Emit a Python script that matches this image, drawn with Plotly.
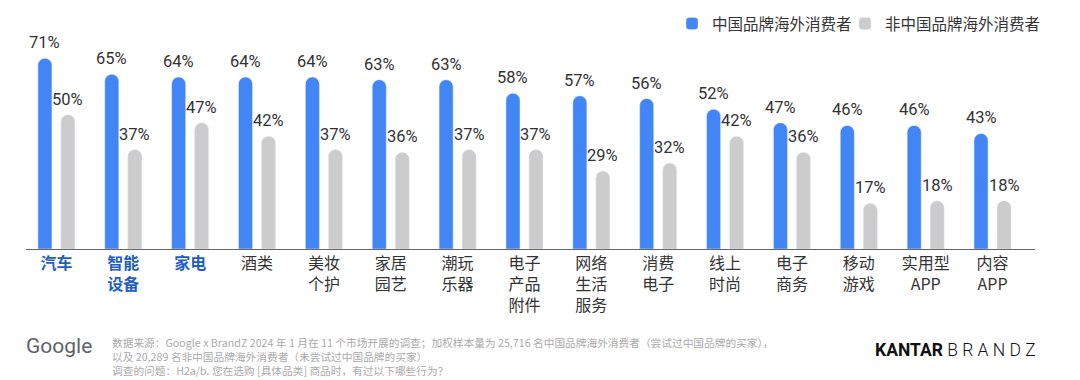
import plotly.graph_objects as go

# ---- data ----
categories = ["汽车", "智能\n设备", "家电", "酒类", "美妆\n个护", "家居\n园艺", "潮玩\n乐器",
              "电子\n产品\n附件", "网络\n生活\n服务", "消费\n电子", "线上\n时尚", "电子\n商务",
              "移动\n游戏", "实用型\nAPP", "内容\nAPP"]
highlighted = ["汽车", "智能\n设备", "家电"]
series_names = ["中国品牌海外消费者", "非中国品牌海外消费者"]
chinese_brand = [71, 65, 64, 64, 64, 63, 63, 58, 57, 56, 52, 47, 46, 46, 43]
non_chinese_brand = [50, 37, 47, 42, 37, 36, 37, 37, 29, 32, 42, 36, 17, 18, 18]

source_lines = [
    "数据来源：Google x BrandZ 2024 年 1 月在 11 个市场开展的调查；加权样本量为 25,716 名中国品牌海外消费者（尝试过中国品牌的买家），",
    "以及 20,289 名非中国品牌海外消费者（未尝试过中国品牌的买家）",
    "调查的问题：H2a/b. 您在选购 [具体品类] 商品时，有过以下哪些行为？",
]

# ---- style ----
BLUE = "#4285F4"
GRAY = "#CCCCCC"
HL = "#1F5FBF"
TXT = "#333333"
CJK = "Noto Sans CJK SC"
NUM = "Roboto, Noto Sans CJK SC"

W, H = 1080, 380
ML, MR, MT, MB = 26, 45, 34, 131
PW, PH = W - ML - MR, H - MT - MB
BARGAP, BARGROUPGAP = 0.312, 0.39


def px(x, y):
    return (x - ML) / PW, (H - MB - y) / PH


idx = list(range(len(categories)))
ticktext = []
for c in categories:
    t = c.replace("\n", "<br>")
    if c in highlighted:
        t = f"<span style='color:{HL}'><b>{t}</b></span>"
    ticktext.append(t)

fig = go.Figure()
fig.add_trace(go.Bar(x=idx, y=chinese_brand, name=series_names[0], marker_color=BLUE,
                     marker_cornerradius="50%", hoverinfo="skip", legend="legend"))
fig.add_trace(go.Bar(x=idx, y=non_chinese_brand, name=series_names[1], marker_color=GRAY,
                     marker_cornerradius="50%", hoverinfo="skip", legend="legend2"))

# value labels
slot = (1 - BARGAP) / 2
for i, (a, b) in enumerate(zip(chinese_brand, non_chinese_brand)):
    for xv, v in ((i - slot / 2, a), (i + slot / 2, b)):
        fig.add_annotation(x=xv, y=v, xref="x", yref="y", text=f"{v}%", showarrow=False,
                           yanchor="bottom", yshift=4,
                           font=dict(family=NUM, size=16.5, color=TXT))

# footer
gx, gy = px(24, 346)
fig.add_annotation(x=gx, y=gy, xref="paper", yref="paper", text="Google", showarrow=False,
                   xanchor="left", yanchor="middle",
                   font=dict(family="Roboto", size=21, color="#5F6368"))
sx, sy = px(110, 333)
fig.add_annotation(x=sx, y=sy, xref="paper", yref="paper", text="<br>".join(source_lines),
                   showarrow=False, xanchor="left", yanchor="top", align="left",
                   font=dict(family=CJK, size=10.7, color="#AAAAAA"))
kx, ky = px(873, 350)
fig.add_annotation(x=kx, y=ky, xref="paper", yref="paper",
                   text="<b>KANTAR</b>\u00a0<span style='font-weight:300'>B\u00a0R\u00a0A\u00a0N\u00a0D\u00a0Z</span>",
                   showarrow=False, xanchor="left", yanchor="middle",
                   font=dict(family="Roboto", size=17.5, color="#111111"))

leg_common = dict(orientation="h", xanchor="right", yanchor="middle",
                  font=dict(family=CJK, size=15.5, color=TXT),
                  itemclick=False, bgcolor="rgba(0,0,0,0)")
l1x, ly = px(857, 24)
l2x, _ = px(1046, 24)
fig.update_layout(
    width=W, height=H,
    margin=dict(l=ML, r=MR, t=MT, b=MB, autoexpand=False),
    paper_bgcolor="white", plot_bgcolor="white",
    barmode="group", bargap=BARGAP, bargroupgap=BARGROUPGAP,
    showlegend=True,
    legend=dict(x=l1x, y=ly, **leg_common),
    legend2=dict(x=l2x, y=ly, **leg_common),
    xaxis=dict(range=[-0.455, 14.635], tickmode="array", tickvals=idx, ticktext=ticktext,
               showgrid=False, zeroline=False, showline=True, linecolor="#666666", linewidth=1.2,
               ticks="", automargin=False,
               tickfont=dict(family=CJK, size=16, color=TXT), fixedrange=True),
    yaxis=dict(range=[0, 80], visible=False, fixedrange=True, automargin=False),
)

fig.write_html("out.html", config={"displayModeBar": False})
